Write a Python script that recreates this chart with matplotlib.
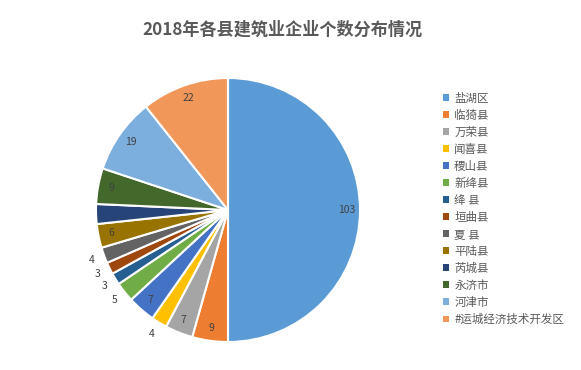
import numpy as np
import matplotlib
matplotlib.use("Agg")
import matplotlib.pyplot as plt
from matplotlib.patches import Patch

plt.rcParams['font.family'] = ['Noto Sans CJK SC', 'DejaVu Sans']

counties = ["盐湖区", "临猗县", "万荣县", "闻喜县", "稷山县", "新绛县", "绛 县",
            "垣曲县", "夏 县", "平陆县", "芮城县", "永济市", "河津市", "#运城经济技术开发区"]
counts = [103, 9, 7, 4, 7, 5, 3, 3, 4, 6, 5, 9, 19, 22]
colors = ["#5B9BD5", "#ED7D31", "#A5A5A5", "#FFC000", "#4472C4", "#70AD47", "#255E91",
          "#9E480E", "#636363", "#997300", "#264478", "#43682B", "#7CAFDD", "#F1975A"]
# labels drawn outside the pie for the thin slices, hidden for 芮城县
outside = {"闻喜县", "新绛县", "绛 县", "垣曲县", "夏 县"}
hidden = {"芮城县"}

W, H = 581, 370
fig = plt.figure(figsize=(W / 100, H / 100), dpi=100)
cx, cy, r = 228, 210, 132
ax = fig.add_axes([(cx - r) / W, (H - cy - r) / H, 2 * r / W, 2 * r / H])

wedges, _ = ax.pie(counts, colors=colors, startangle=90, counterclock=False,
                   radius=1, wedgeprops=dict(edgecolor="white", linewidth=1.5))
ax.set_xlim(-1, 1)
ax.set_ylim(-1, 1)
ax.set_aspect("equal")
ax.axis("off")

for w, name, v in zip(wedges, counties, counts):
    if name in hidden:
        continue
    mid = np.deg2rad((w.theta1 + w.theta2) / 2)
    d = 1.1 if name in outside else 0.9
    ax.text(d * np.cos(mid), d * np.sin(mid), str(v), ha="center", va="center",
            fontsize=7.5, color="#404040")

fig.text(282 / W, 1 - 30 / H, "2018年各县建筑业企业个数分布情况", ha="center", va="center",
         fontsize=12.3, fontweight="bold", color="#595959")

handles = [Patch(facecolor=c, edgecolor="none") for c in colors]
fig.legend(handles, counties, loc="upper left", bbox_to_anchor=(438 / W, 1 - 87 / H),
           frameon=False, fontsize=8.3, handlelength=0.55, handleheight=0.55,
           handletextpad=0.45, labelspacing=0.35, borderaxespad=0, labelcolor="#595959")

fig.savefig("out.png", dpi=100)
